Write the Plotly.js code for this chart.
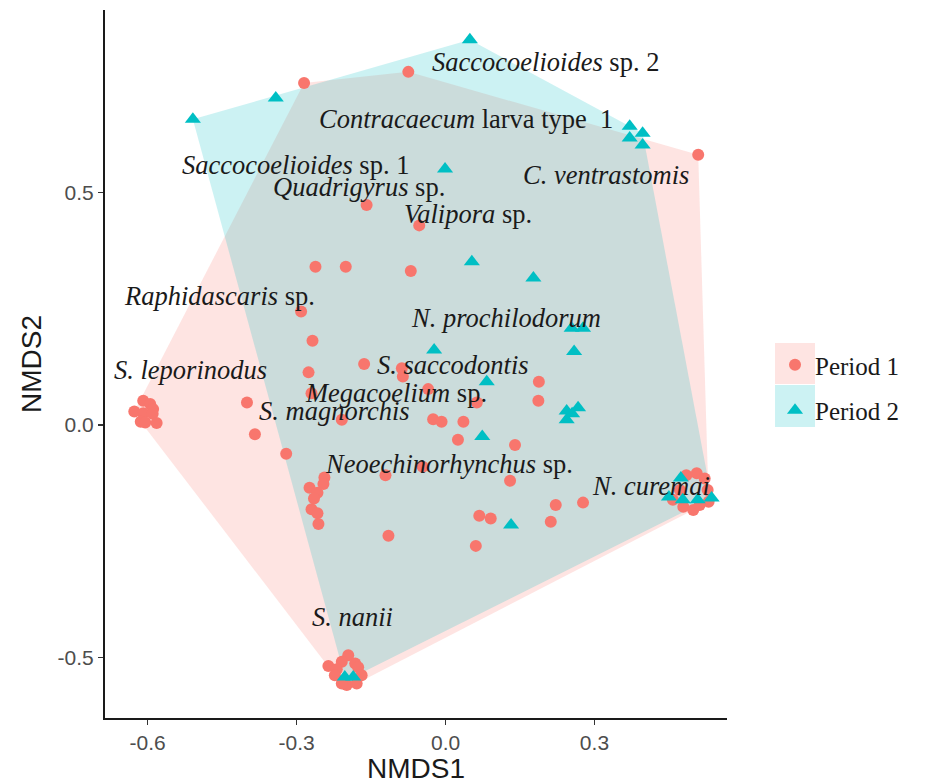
<!DOCTYPE html>
<html>
<head>
<meta charset="utf-8">
<script src="https://cdn.plot.ly/plotly-3.0.1.min.js"></script>
<style>html,body{margin:0;padding:0;background:#fff;}#chart{width:925px;height:784px;}</style>
</head>
<body>
<div id="chart"></div>
<script>
// Period 1 sample scores (NMDS1, NMDS2)
const period1X = [-0.285,-0.075,0.509,-0.159,-0.053,-0.262,-0.201,-0.070,-0.291,-0.268,-0.164,-0.088,-0.086,-0.276,-0.035,0.188,-0.270,0.063,0.187,-0.400,-0.209,-0.025,-0.008,0.036,-0.384,0.025,-0.321,0.140,-0.244,-0.246,-0.274,-0.258,-0.265,-0.270,-0.258,-0.256,-0.121,-0.046,0.130,0.222,0.277,0.068,0.091,0.212,-0.115,0.061,
  -0.627,-0.609,-0.595,-0.589,-0.609,-0.590,-0.614,-0.605,-0.582,
  -0.196,-0.209,-0.182,-0.236,-0.219,-0.176,-0.223,-0.169,-0.199,-0.179,-0.209,
  0.485,0.506,0.522,0.472,0.528,0.479,0.499,0.458,0.530,0.512];
const period1Y = [0.735,0.759,0.581,0.473,0.429,0.340,0.340,0.331,0.244,0.181,0.131,0.122,0.104,0.113,0.077,0.093,0.068,0.048,0.052,0.048,0.011,0.012,0.007,0.007,-0.020,-0.032,-0.062,-0.043,-0.113,-0.127,-0.135,-0.146,-0.158,-0.181,-0.190,-0.213,-0.108,-0.090,-0.120,-0.172,-0.167,-0.195,-0.201,-0.208,-0.238,-0.260,
  0.029,0.052,0.045,0.034,0.025,0.024,0.007,0.005,0.004,
  -0.495,-0.509,-0.513,-0.518,-0.525,-0.521,-0.538,-0.538,-0.559,-0.556,-0.556,
  -0.108,-0.104,-0.115,-0.140,-0.140,-0.176,-0.183,-0.161,-0.165,-0.172];

// Period 2 sample scores
const period2X = [0.049,-0.342,-0.509,-0.001,0.371,0.397,0.371,0.397,0.053,0.177,0.254,0.277,-0.023,0.259,0.083,0.244,0.267,0.244,0.255,0.074,0.132,-0.203,-0.186,0.474,0.450,0.478,0.508,0.536];
const period2Y = [0.828,0.703,0.657,0.550,0.642,0.627,0.617,0.602,0.351,0.316,0.208,0.208,0.161,0.158,0.093,0.030,0.037,0.011,0.024,-0.025,-0.215,-0.542,-0.542,-0.114,-0.155,-0.161,-0.161,-0.157];

// Species labels
const speciesLabels = ["<i>Saccocoelioides</i> sp. 2","<i>Contracaecum</i> larva type\u00a0 1","<i>Saccocoelioides</i> sp. 1","<i>C. ventrastomis</i>","<i>Quadrigyrus</i> sp.","<i>Valipora</i> sp.","<i>Raphidascaris</i> sp.","<i>N. prochilodorum</i>","<i>S. saccodontis</i>","<i>S. leporinodus</i>","<i>Megacoelium</i> sp.","<i>S. magnorchis</i>","<i>Neoechinorhynchus</i> sp.","<i>N. curemai</i>","<i>S. nanii</i>"];
const speciesX = [0.202,0.041,-0.303,0.323,-0.174,0.045,-0.456,0.122,0.015,-0.514,-0.100,-0.223,0.007,0.414,-0.188];
const speciesY = [0.781,0.658,0.559,0.538,0.512,0.454,0.277,0.230,0.129,0.118,0.069,0.030,-0.084,-0.131,-0.413];

const seriesNames = ["Period 1","Period 2"];
const red = "#F8766D", teal = "#00BFC4";

function hull(xs, ys){
  const pts = xs.map((x,i)=>[x,ys[i]]).sort((a,b)=>a[0]-b[0]||a[1]-b[1]);
  const cross=(o,a,b)=>(a[0]-o[0])*(b[1]-o[1])-(a[1]-o[1])*(b[0]-o[0]);
  const lower=[],upper=[];
  for(const p of pts){while(lower.length>=2&&cross(lower[lower.length-2],lower[lower.length-1],p)<=0)lower.pop();lower.push(p);}
  for(let i=pts.length-1;i>=0;i--){const p=pts[i];while(upper.length>=2&&cross(upper[upper.length-2],upper[upper.length-1],p)<=0)upper.pop();upper.push(p);}
  upper.pop();lower.pop();
  const h=lower.concat(upper);
  return {x:h.map(p=>p[0]), y:h.map(p=>p[1])};
}
const h1 = hull(period1X, period1Y), h2 = hull(period2X, period2Y);

const traces = [
  {x:h1.x, y:h1.y, type:'scatter', mode:'lines', fill:'toself', fillcolor:'rgba(248,118,109,0.2)', line:{width:0}, showlegend:false, hoverinfo:'skip'},
  {x:h2.x, y:h2.y, type:'scatter', mode:'lines', fill:'toself', fillcolor:'rgba(0,191,196,0.2)', line:{width:0}, showlegend:false, hoverinfo:'skip'},
  {x:period1X, y:period1Y, type:'scatter', mode:'markers', name:seriesNames[0], legendgroup:'a', marker:{color:red, size:12, symbol:'circle'}},
  {x:period2X, y:period2Y, type:'scatter', mode:'markers', name:seriesNames[1], legendgroup:'b', marker:{color:teal, size:14, symbol:'triangle-up'}}
];

const annotations = speciesLabels.map((t,i)=>({x:speciesX[i], y:speciesY[i], xref:'x', yref:'y', text:t, showarrow:false, xanchor:'center', yanchor:'middle', font:{family:'Liberation Serif, Times New Roman, serif', size:26.5, color:'#1a1a1a'}}));

const layout = {
  width:925, height:784,
  margin:{l:105, r:198, t:10, b:66},
  paper_bgcolor:'#fff', plot_bgcolor:'#fff',
  showlegend:true,
  legend:{x:1.0772, xanchor:'left', y:0.531, yanchor:'top', font:{family:'Liberation Serif, Times New Roman, serif', size:25, color:'#1a1a1a'}, bgcolor:'rgba(0,0,0,0)', traceorder:'grouped', tracegroupgap:10},
  xaxis:{range:[-0.686,0.567], tickvals:[-0.6,-0.3,0,0.3], ticktext:['-0.6','-0.3','0.0','0.3'], showgrid:false, zeroline:false, showline:true, linecolor:'#1a1a1a', linewidth:2, ticks:'outside', ticklen:5, tickwidth:1.5, tickcolor:'#333', tickfont:{family:'Liberation Sans, Arial, sans-serif', size:21, color:'#4d4d4d'}, title:{text:'NMDS1', font:{family:'Liberation Sans, Arial, sans-serif', size:28, color:'#1a1a1a'}, standoff:2}},
  yaxis:{range:[-0.630,0.892], tickvals:[-0.5,0,0.5], ticktext:['-0.5','0.0','0.5'], showgrid:false, zeroline:false, showline:true, linecolor:'#1a1a1a', linewidth:2, ticks:'outside', ticklen:5, tickwidth:1.5, tickcolor:'#333', tickfont:{family:'Liberation Sans, Arial, sans-serif', size:21, color:'#4d4d4d'}, title:{text:'NMDS2', font:{family:'Liberation Sans, Arial, sans-serif', size:28, color:'#1a1a1a'}, standoff:8}},
  annotations:annotations,
  shapes:[
    {type:'rect', xref:'paper', yref:'paper', x0:1.0772, x1:1.1415, y0:0.4718, y1:0.5297, fillcolor:'rgba(248,118,109,0.2)', line:{width:0}, layer:'below'},
    {type:'rect', xref:'paper', yref:'paper', x0:1.0772, x1:1.1415, y0:0.4110, y1:0.4703, fillcolor:'rgba(0,191,196,0.2)', line:{width:0}, layer:'below'}
  ],
  hovermode:false
};

Plotly.newPlot('chart', traces, layout, {staticPlot:true, displayModeBar:false});
</script>
</body>
</html>
